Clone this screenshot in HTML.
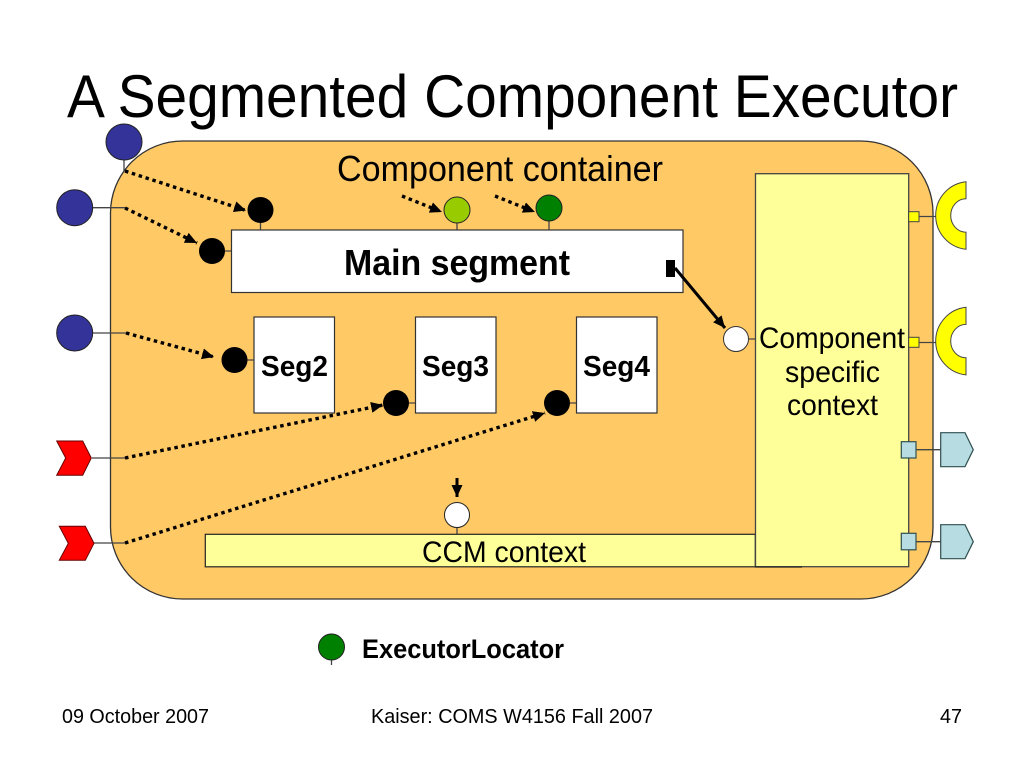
<!DOCTYPE html>
<html><head><meta charset="utf-8"><style>
html,body{margin:0;padding:0;background:#fff;width:1024px;height:768px;overflow:hidden}
svg{display:block}
text{font-family:"Liberation Sans",sans-serif;fill:#000}
</style></head><body>
<svg width="1024" height="768" viewBox="0 0 1024 768" xmlns="http://www.w3.org/2000/svg">
<defs>
<marker id="a" markerUnits="userSpaceOnUse" markerWidth="14" markerHeight="13" refX="12" refY="5.5" orient="auto"><path d="M0 0L12 5.5L0 11z" fill="#000"/></marker>
</defs>
<text x="67" y="117" font-size="60" textLength="891" lengthAdjust="spacingAndGlyphs">A Segmented Component Executor</text>
<rect x="110.5" y="141" width="822.5" height="458" rx="72" ry="72" fill="#ffc966" stroke="#333" stroke-width="1.3"/>

<g stroke="#444" stroke-width="1.3" fill="none">
<path d="M124 160V171M92 207.7H125M92 333H126M92 458H126M94 543H126"/>
<path d="M260.5 222V231M225 251H232M247 360H254M409 403H416M570 403H577M457 222V231M549 221V231M749 339H756M457 528V535M331.5 660V665"/>
<path d="M919 216.5H938M919 342.5H938M916 449.7H941M916 541.7H941"/>
</g>

<g fill="#333399" stroke="#222" stroke-width="1">
<circle cx="124" cy="142" r="18"/><circle cx="74.7" cy="207.7" r="18"/><circle cx="74.7" cy="333" r="18"/>
</g>
<g fill="#f00" stroke="#600" stroke-width="1">
<path d="M56.7 441H82.7L91.3 458L82.7 475.3H56.7L65.7 458z"/>
<path d="M59.3 526.3H85.3L94 543.3L85.3 560.3H59.3L68.3 543.3z"/>
</g>

<g fill="#fff" stroke="#333" stroke-width="1.2">
<rect x="231.5" y="230" width="451.5" height="62.5"/>
<rect x="254" y="317" width="80.5" height="96"/>
<rect x="415.5" y="317" width="80.5" height="96"/>
<rect x="576.5" y="317" width="80.5" height="96"/>
</g>
<rect x="205.3" y="534.3" width="550" height="32.5" fill="#ffff99" stroke="#222" stroke-width="1.2"/>
<rect x="755.5" y="173.7" width="153.2" height="393" fill="#ffff99" stroke="#444" stroke-width="1.3"/>
<path d="M755 567H802" stroke="#222" stroke-width="1.3"/>

<g fill="#000">
<circle cx="260.5" cy="210" r="13"/><circle cx="212" cy="251" r="13"/><circle cx="234.5" cy="360" r="13"/>
<circle cx="396" cy="403" r="13"/><circle cx="557" cy="403" r="13"/>
<rect x="666" y="260" width="9" height="17"/>
</g>
<circle cx="457" cy="210" r="13" fill="#99cc00" stroke="#222" stroke-width="1"/>
<circle cx="549" cy="208" r="13" fill="#008000" stroke="#222" stroke-width="1"/>
<circle cx="331.5" cy="647" r="13" fill="#008000" stroke="#222" stroke-width="1"/>
<circle cx="736" cy="339" r="12.5" fill="#fff" stroke="#333" stroke-width="1"/>
<circle cx="457" cy="515" r="12.5" fill="#fff" stroke="#222" stroke-width="1"/>

<g stroke="#000" stroke-width="3.4" fill="none" stroke-dasharray="3.5 3.7" marker-end="url(#a)">
<path d="M125 171L246 210.5"/>
<path d="M125 208L197 243"/>
<path d="M126 333L214 357"/>
<path d="M125 458L383 405"/>
<path d="M125 543L545 413"/>
<path d="M402 196L442 212"/>
<path d="M495 196L535 212"/>
</g>
<path d="M675 268L725 328" stroke="#000" stroke-width="3" fill="none" marker-end="url(#a)"/>
<path d="M457 478V497" stroke="#000" stroke-width="3" fill="none" marker-end="url(#a)"/>

<g fill="#ffff00" stroke="#444" stroke-width="1">
<rect x="908.7" y="211.7" width="10.3" height="10"/>
<rect x="908.7" y="337.3" width="10.3" height="10"/>
<path d="M966 181.7A34 34 0 0 0 966 249.3V232.2A15.3 16.7 0 0 1 966 198.8z"/>
<path d="M966 307.3A34 34 0 0 0 966 374.9V357.8A15.3 16.7 0 0 1 966 324.4z"/>
</g>
<g fill="#b7dde3" stroke="#2f4f4f" stroke-width="1.2">
<rect x="901.3" y="441.7" width="14.7" height="16.3"/>
<rect x="901.3" y="533.3" width="14.7" height="16.5"/>
<path d="M940.7 432.7H965L973.3 449.7L965 466.7H940.7z"/>
<path d="M940.7 524.7H965L973.3 541.7L965 558.7H940.7z"/>
</g>

<text x="337" y="181" font-size="36" textLength="326" lengthAdjust="spacingAndGlyphs">Component container</text>
<text x="344" y="275" font-size="36" font-weight="bold" textLength="226" lengthAdjust="spacingAndGlyphs">Main segment</text>
<text x="261" y="376" font-size="29" font-weight="bold" textLength="67" lengthAdjust="spacingAndGlyphs">Seg2</text>
<text x="422" y="376" font-size="29" font-weight="bold" textLength="67" lengthAdjust="spacingAndGlyphs">Seg3</text>
<text x="583" y="376" font-size="29" font-weight="bold" textLength="67" lengthAdjust="spacingAndGlyphs">Seg4</text>
<text x="759" y="348" font-size="30" textLength="146" lengthAdjust="spacingAndGlyphs">Component</text>
<text x="785" y="382" font-size="30" textLength="95" lengthAdjust="spacingAndGlyphs">specific</text>
<text x="787" y="415" font-size="30" textLength="91" lengthAdjust="spacingAndGlyphs">context</text>
<text x="422" y="562" font-size="30" textLength="164" lengthAdjust="spacingAndGlyphs">CCM context</text>
<text x="362" y="658" font-size="27" font-weight="bold" textLength="202" lengthAdjust="spacingAndGlyphs">ExecutorLocator</text>
<text x="62" y="723" font-size="20.5" textLength="147" lengthAdjust="spacingAndGlyphs">09 October 2007</text>
<text x="371" y="723" font-size="20.5" textLength="282" lengthAdjust="spacingAndGlyphs">Kaiser: COMS W4156 Fall 2007</text>
<text x="940" y="723" font-size="20.5" textLength="22" lengthAdjust="spacingAndGlyphs">47</text>
</svg>
</body></html>
